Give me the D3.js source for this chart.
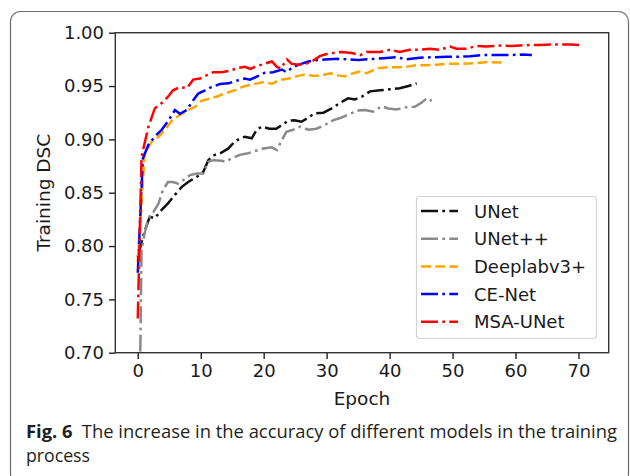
<!DOCTYPE html>
<html>
<head>
<meta charset="utf-8">
<script src="https://cdn.jsdelivr.net/npm/d3@7"></script>
<style>
  body { margin: 0; background: #fff; }
  svg { display: block; }
</style>
</head>
<body>
<svg id="chart" width="630" height="476"></svg>
<script>
// values: [epoch, training DSC]
const unet = [[0,0.79],[1,0.812],[1.9,0.8275],[2.7,0.826],[3.8,0.834],[4.8,0.840],[5.9,0.848],[7,0.8555],[8,0.860],[9.4,0.865],[10.4,0.8695],[11.2,0.8805],[12,0.885],[13.1,0.887],[14.4,0.8915],[15.4,0.898],[16.3,0.901],[17,0.9025],[18.1,0.901],[18.9,0.909],[19.7,0.912],[20.9,0.910],[22,0.910],[22.9,0.9135],[23.9,0.9175],[24.9,0.918],[26,0.9165],[27.1,0.9205],[28.1,0.9245],[29.5,0.925],[30.8,0.929],[32.1,0.934],[33.4,0.9385],[34.5,0.9375],[35.6,0.940],[36.9,0.945],[38.5,0.946],[40.1,0.947],[41.6,0.948],[43,0.950],[44.3,0.9525]];
const unetpp = [[0.4,0.701],[0.6,0.796],[1.1,0.812],[1.7,0.826],[2.5,0.832],[3.3,0.840],[4,0.8525],[4.8,0.860],[5.6,0.860],[6.4,0.8585],[7.3,0.862],[8.3,0.8665],[9.4,0.868],[10.4,0.868],[11.2,0.879],[12,0.8805],[13.3,0.880],[13.9,0.879],[14.9,0.882],[16.2,0.8855],[17.5,0.887],[18.6,0.889],[20,0.8915],[21.3,0.8925],[22.1,0.890],[22.9,0.8995],[23.6,0.907],[24.7,0.909],[25.8,0.912],[27.1,0.909],[28.4,0.910],[29.7,0.9135],[31.1,0.918],[32.4,0.9205],[33.7,0.924],[35,0.927],[36.1,0.9275],[37.4,0.926],[38.7,0.931],[39.8,0.929],[41.1,0.928],[42.5,0.930],[44,0.9305],[45.1,0.9345],[45.9,0.9385],[46.7,0.936]];
const deeplab = [[0,0.785],[1.1,0.887],[2.2,0.898],[3.3,0.9025],[4.3,0.909],[5.4,0.9175],[6.7,0.923],[8,0.9275],[9.1,0.9305],[10.1,0.936],[11.2,0.938],[12.5,0.940],[13.8,0.943],[15.4,0.946],[16.8,0.9495],[18.6,0.952],[20.2,0.954],[21.3,0.952],[22.4,0.9555],[24,0.957],[25.5,0.9595],[26.6,0.961],[27.9,0.9595],[29.2,0.960],[30.6,0.962],[31.8,0.960],[32.9,0.959],[34.2,0.962],[35.3,0.9635],[36.4,0.962],[38,0.9665],[39.6,0.9675],[41.1,0.9675],[42.7,0.968],[44.3,0.9695],[45.8,0.9695],[47.4,0.970],[49.6,0.971],[51.7,0.971],[53.8,0.9715],[55.7,0.9725],[57.8,0.972]];
const cenet = [[0,0.775],[0.8,0.882],[1.7,0.895],[2.7,0.9025],[3.8,0.909],[4.8,0.917],[5.9,0.9275],[6.7,0.924],[7.8,0.9275],[8.6,0.935],[9.6,0.943],[10.7,0.946],[11.7,0.949],[13.1,0.952],[14.4,0.9525],[15.7,0.955],[17,0.957],[17.8,0.956],[18.6,0.958],[20.2,0.9625],[21.5,0.963],[22.9,0.9655],[23.6,0.963],[24.7,0.968],[25.8,0.9705],[27.1,0.973],[28.6,0.9745],[30.3,0.975],[31.8,0.9755],[33.4,0.975],[35,0.9745],[36.4,0.975],[39,0.976],[41.1,0.977],[42.7,0.975],[44.8,0.9765],[46.9,0.977],[49.1,0.9775],[51.2,0.9775],[52.8,0.978],[54.9,0.979],[57,0.979],[59,0.979],[61,0.9795],[62.6,0.979]];
const msaunet = [[0,0.732],[0.6,0.884],[1.7,0.912],[2.7,0.929],[3.8,0.934],[4.8,0.940],[5.6,0.946],[6.7,0.949],[7.8,0.948],[8.8,0.956],[9.9,0.957],[10.9,0.960],[12,0.963],[13.3,0.963],[14.4,0.964],[16,0.967],[17,0.968],[17.9,0.966],[18.6,0.968],[20.2,0.971],[21.3,0.973],[22.1,0.968],[22.7,0.9665],[23.7,0.975],[24.4,0.971],[25.5,0.970],[26.8,0.971],[27.9,0.974],[28.9,0.978],[30,0.980],[31.1,0.981],[32.4,0.982],[34,0.981],[35.3,0.979],[36.4,0.982],[38.5,0.982],[40.1,0.984],[41.6,0.982],[43.2,0.984],[44.8,0.984],[46.4,0.985],[48,0.984],[49.6,0.987],[50.6,0.985],[52.2,0.985],[53.8,0.9875],[55.4,0.987],[57.7,0.988],[59.3,0.9875],[60.7,0.988],[62.3,0.9885],[63.9,0.9885],[65.5,0.989],[67.1,0.989],[68.7,0.989],[70.3,0.9885]];

const seriesNames = ["UNet", "UNet++", "Deeplabv3+", "CE-Net", "MSA-UNet"];
const seriesData = [unet, unetpp, deeplab, cenet, msaunet];
const xTicks = [0, 10, 20, 30, 40, 50, 60, 70];
const yTicks = [0.70, 0.75, 0.80, 0.85, 0.90, 0.95, 1.00];

const colors = ["#111111", "#8a8a8a", "#ffa500", "#0000ff", "#ff0000"];
const dashDot = "17,4.3,2.7,4.3";
const dashes = [dashDot, dashDot, "10,4.3", dashDot, dashDot];

const svg = d3.select("#chart");

// card outline
svg.append("rect")
  .attr("x", 10.5).attr("y", 11.5)
  .attr("width", 618).attr("height", 472)
  .attr("rx", 10)
  .attr("fill", "none")
  .attr("stroke", "#6b6b6b")
  .attr("stroke-width", 1.2);

const plot = { left: 115.3, right: 608.7, top: 32.7, bottom: 352.7 };

const x = d3.scaleLinear().domain([-3.57, 74.8]).range([plot.left, plot.right]);
const y = d3.scaleLinear().domain([0.70, 1.00]).range([plot.bottom, plot.top]);

svg.append("clipPath").attr("id", "clip")
  .append("rect")
  .attr("x", plot.left).attr("y", plot.top)
  .attr("width", plot.right - plot.left).attr("height", plot.bottom - plot.top);

const line = d3.line().x(d => x(d[0])).y(d => y(d[1]));

const lines = svg.append("g").attr("clip-path", "url(#clip)");
seriesData.forEach((data, i) => {
  lines.append("path")
    .datum(data)
    .attr("d", line)
    .attr("fill", "none")
    .attr("stroke", colors[i])
    .attr("stroke-width", 2.5)
    .attr("stroke-dasharray", dashes[i]);
});

// axes
const tickFont = "DejaVu Sans, sans-serif";

const xAxis = svg.append("g")
  .attr("transform", `translate(0,${plot.bottom})`)
  .call(d3.axisBottom(x).tickValues(xTicks).tickSize(6.3).tickPadding(5).tickFormat(d3.format("d")));

const yAxis = svg.append("g")
  .attr("transform", `translate(${plot.left},0)`)
  .call(d3.axisLeft(y).tickValues(yTicks).tickSize(6.3).tickPadding(5).tickFormat(d3.format(".2f")));

[xAxis, yAxis].forEach(ax => {
  ax.select(".domain").remove();
  ax.selectAll(".tick line").attr("stroke", "#222").attr("stroke-width", 1.4);
  ax.selectAll(".tick text")
    .attr("fill", "#1a1a1a")
    .style("font-family", tickFont)
    .style("font-size", "18px");
});

// frame
svg.append("rect")
  .attr("x", plot.left).attr("y", plot.top)
  .attr("width", plot.right - plot.left).attr("height", plot.bottom - plot.top)
  .attr("fill", "none")
  .attr("stroke", "#333")
  .attr("stroke-width", 1.4);

svg.append("text")
  .attr("x", (plot.left + plot.right) / 2).attr("y", 405)
  .attr("text-anchor", "middle")
  .attr("fill", "#1a1a1a")
  .style("font-family", tickFont).style("font-size", "18.5px")
  .text("Epoch");

svg.append("text")
  .attr("transform", `translate(50,${(plot.top + plot.bottom) / 2}) rotate(-90)`)
  .attr("text-anchor", "middle")
  .attr("fill", "#1a1a1a")
  .style("font-family", tickFont).style("font-size", "18.5px")
  .text("Training DSC");

// legend
const legend = svg.append("g");
legend.append("rect")
  .attr("x", 416.5).attr("y", 196.5)
  .attr("width", 180).attr("height", 142)
  .attr("rx", 3)
  .attr("fill", "#fff").attr("fill-opacity", 0.85)
  .attr("stroke", "#d4d4d4").attr("stroke-width", 1.2);

seriesNames.forEach((name, i) => {
  const cy = 211 + i * 27.7;
  legend.append("line")
    .attr("x1", 421).attr("x2", 458)
    .attr("y1", cy).attr("y2", cy)
    .attr("stroke", colors[i])
    .attr("stroke-width", 2.5)
    .attr("stroke-dasharray", dashes[i]);
  legend.append("text")
    .attr("x", 474).attr("y", cy + 6.5)
    .attr("fill", "#1a1a1a")
    .style("font-family", tickFont).style("font-size", "18px")
    .text(name);
});

// caption
const cap = svg.append("text")
  .attr("x", 26).attr("y", 438)
  .attr("textLength", 591)
  .attr("lengthAdjust", "spacingAndGlyphs")
  .attr("fill", "#231f20")
  .style("font-family", "Open Sans, sans-serif").style("font-size", "18.5px");
cap.append("tspan").style("font-weight", "bold").text("Fig. 6");
cap.append("tspan").text("\u2002The increase in the accuracy of different models in the training");

svg.append("text")
  .attr("x", 26).attr("y", 462)
  .attr("textLength", 64)
  .attr("lengthAdjust", "spacingAndGlyphs")
  .attr("fill", "#231f20")
  .style("font-family", "Open Sans, sans-serif").style("font-size", "18.5px")
  .text("process");
</script>
</body>
</html>
